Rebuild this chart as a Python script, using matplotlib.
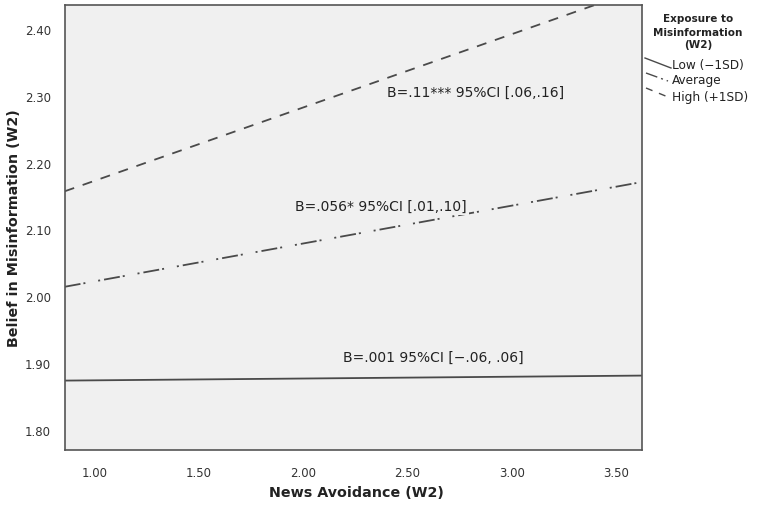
import matplotlib
matplotlib.use("Agg")
import matplotlib.pyplot as plt
from matplotlib.lines import Line2D

# ---- data ----
x_range = [0.858, 3.625]
low_vals = [1.8735, 1.881]
avg_vals = [2.014, 2.171]
high_vals = [2.157, 2.461]
series_names = ["Low (\u22121SD)", "Average", "High (+1SD)"]
x_ticks = [1.0, 1.5, 2.0, 2.5, 3.0, 3.5]
y_ticks = [1.8, 1.9, 2.0, 2.1, 2.2, 2.3, 2.4]
annotations = [
    (2.401, 2.3066, "B=.11*** 95%CI [.06,.16]"),
    (1.961, 2.135, "B=.056* 95%CI [.01,.10]"),
    (2.192, 1.9085, "B=.001 95%CI [\u2212.06, .06]"),
]

plt.rcParams['lines.scale_dashes'] = False
W, H = 758, 506
fig = plt.figure(figsize=(W / 100, H / 100), dpi=100)
ax_l, ax_r, ax_t, ax_b = 64.7, 642.3, 6, 450.7
ax = fig.add_axes([ax_l / W, 1 - ax_b / H, (ax_r - ax_l) / W, (ax_b - ax_t) / H])
bg = "#f0f0f0"
ax.set_facecolor(bg)
lc = "#4a4a4a"

px = 1 / 1.389  # pixel -> points
dash_dot = (0, (16 * px, 3 * px, 2 * px, 13 * px, 2 * px, 4 * px))
dashed = (0, (10 * px, 9 * px))

ax.plot(x_range, low_vals, color=lc, lw=1.3, ls="-", zorder=2)
ax.plot(x_range, avg_vals, color=lc, lw=1.3, ls=dash_dot, zorder=2)
ax.plot(x_range, high_vals, color=lc, lw=1.3, ls=dashed, zorder=2)

ax.set_xlim(0.858, 3.625)
ax.set_ylim(1.770, 2.436)
ax.set_xticks(x_ticks)
ax.set_xticklabels([f"{v:.2f}" for v in x_ticks])
ax.set_yticks(y_ticks)
ax.set_yticklabels([f"{v:.2f}" for v in y_ticks])
ax.tick_params(length=0, labelsize=8.5, labelcolor="#333333", pad=10)
ax.tick_params(axis="x", pad=12)
for s in ax.spines.values():
    s.set_color("#555555")
    s.set_linewidth(1.2)

ax.set_xlabel("News Avoidance (W2)", fontsize=10.3, fontweight="bold", color="#222222", va="center")
ax.set_ylabel("Belief in Misinformation (W2)", fontsize=10.3, fontweight="bold", color="#222222", va="center")
aw, ah = ax_r - ax_l, ax_b - ax_t
ax.xaxis.set_label_coords((356 - ax_l) / aw, -(493.5 - ax_b) / ah)
ax.yaxis.set_label_coords((14 - ax_l) / aw, (ax_b - 228.5) / ah)

for xa, ya, t in annotations:
    ax.text(xa, ya, t, fontsize=10, color="#222222", ha="left", va="center", zorder=3,
            bbox=dict(facecolor=bg, edgecolor="none", pad=1.5))

# ---- legend (outside right) ----
def fx(p):
    return p / W

def fy(p):
    return 1 - p / H

fig.text(fx(698), fy(19), "Exposure to", ha="center", va="center", fontsize=7.5, fontweight="bold", color="#222222")
fig.text(fx(698), fy(32.5), "Misinformation", ha="center", va="center", fontsize=7.5, fontweight="bold", color="#222222")
fig.text(fx(698), fy(45), "(W2)", ha="center", va="center", fontsize=7.5, fontweight="bold", color="#222222")

handles = [
    ((645, 59), (671, 69), "-"),
    ((646, 74), (668, 82), (0, (12 * px, 4 * px, 2 * px, 4 * px))),
    ((646, 89), (668, 98), (0, (7 * px, 7 * px))),
]
text_y = [66, 80.5, 97]
for (p0, p1, style), ty, name in zip(handles, text_y, series_names):
    fig.add_artist(Line2D([fx(p0[0]), fx(p1[0])], [fy(p0[1]), fy(p1[1])],
                          transform=fig.transFigure, color=lc, lw=1.0, ls=style))
    fig.text(fx(672), fy(ty), name, ha="left", va="center", fontsize=8.7, color="#222222")

fig.savefig("out.png", dpi=100, facecolor="white")
